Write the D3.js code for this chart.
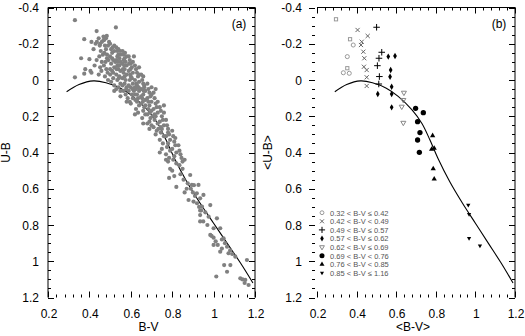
<!DOCTYPE html>
<html>
<head>
<meta charset="utf-8">
<script src="https://cdn.jsdelivr.net/npm/d3@7"></script>
<style>
  body { margin: 0; background: #fff; }
  svg { display: block; font-family: Arial, "Liberation Sans", sans-serif; }
</style>
</head>
<body>
<script>
// intrinsic main-sequence relation (U-B vs B-V)
var curveBV = [0.29, 0.35, 0.42, 0.48, 0.55, 0.61, 0.68, 0.73, 0.77, 0.81, 0.87, 0.935, 1.0, 1.065, 1.13, 1.19];
var curveUB = [0.065, 0.025, 0.005, 0.015, 0.045, 0.09, 0.165, 0.24, 0.33, 0.43, 0.56, 0.68, 0.79, 0.90, 1.01, 1.12];

// panel (a): individual stars [B-V, U-B]
var starsA = [
  [0.33,-0.33],[0.33,-0.015],[0.36,-0.12],[0.375,-0.225],[0.38,-0.06],[0.375,-0.035],[0.405,-0.05],
  [0.41,-0.21],[0.43,-0.20],[0.435,-0.27],[0.40,-0.115],[0.435,-0.11],[0.41,-0.04],[0.42,-0.17],[0.425,-0.08],
  [0.528,-0.29],[0.484,-0.243],[0.468,-0.22],[0.468,-0.24],[0.452,-0.20],[0.436,-0.21],
  [0.445,-0.23],[0.45,-0.19],[0.455,-0.16],[0.448,-0.13],[0.46,-0.10],[0.452,-0.07],[0.445,-0.03],[0.458,-0.05],[0.46,-0.21],[0.465,-0.14],
  [0.47,-0.22],[0.475,-0.19],[0.48,-0.17],[0.472,-0.15],[0.485,-0.12],[0.478,-0.10],[0.47,-0.08],[0.482,-0.06],[0.488,-0.04],
  [0.475,-0.02],[0.49,0.0],[0.485,-0.14],[0.49,-0.19],[0.48,-0.23],[0.495,-0.21],[0.492,-0.11],
  [0.50,-0.20],[0.505,-0.17],[0.51,-0.15],[0.50,-0.13],[0.515,-0.11],[0.505,-0.09],[0.52,-0.07],[0.51,-0.05],[0.50,-0.03],
  [0.515,-0.01],[0.505,0.01],[0.52,0.03],[0.51,-0.12],[0.52,-0.16],[0.50,-0.06],[0.515,-0.04],[0.52,-0.19],[0.512,-0.18],[0.525,-0.10],
  [0.53,-0.18],[0.535,-0.16],[0.54,-0.14],[0.545,-0.12],[0.53,-0.11],[0.55,-0.10],[0.535,-0.08],[0.54,-0.06],[0.55,-0.05],[0.53,-0.03],
  [0.545,-0.02],[0.535,0.0],[0.55,0.02],[0.54,0.04],[0.53,0.05],[0.55,-0.14],[0.545,-0.08],[0.54,-0.17],[0.55,0.06],[0.535,-0.13],
  [0.532,-0.06],[0.548,-0.16],[0.542,-0.01],[0.538,-0.10],
  [0.56,-0.16],[0.565,-0.14],[0.57,-0.12],[0.575,-0.10],[0.56,-0.09],[0.58,-0.08],[0.57,-0.06],[0.565,-0.04],[0.58,-0.03],[0.56,-0.01],
  [0.575,0.0],[0.57,0.02],[0.58,0.04],[0.565,0.06],[0.575,0.08],[0.56,0.03],[0.58,-0.13],[0.57,-0.02],[0.585,0.10],[0.565,-0.11],
  [0.572,-0.15],[0.562,-0.06],[0.578,0.05],[0.568,-0.08],
  [0.59,-0.13],[0.595,-0.11],[0.60,-0.09],[0.605,-0.07],[0.59,-0.05],[0.61,-0.04],[0.60,-0.02],[0.595,0.0],[0.61,0.02],[0.60,0.04],
  [0.59,0.06],[0.605,0.08],[0.61,0.10],[0.595,0.12],[0.60,0.13],[0.61,-0.10],[0.59,0.03],[0.605,-0.01],[0.615,0.06],[0.598,-0.06],
  [0.608,0.05],[0.592,-0.09],
  [0.62,-0.08],[0.625,-0.06],[0.63,-0.04],[0.635,-0.02],[0.62,0.0],[0.64,0.01],[0.63,0.03],[0.625,0.05],[0.64,0.06],[0.62,0.08],
  [0.635,0.10],[0.63,0.12],[0.64,0.14],[0.625,0.16],[0.635,0.18],[0.62,0.04],[0.64,-0.03],[0.63,0.08],[0.622,0.11],[0.638,0.04],
  [0.65,-0.03],[0.655,0.0],[0.66,0.02],[0.665,0.04],[0.65,0.05],[0.67,0.06],[0.66,0.08],[0.655,0.10],[0.67,0.11],[0.65,0.13],
  [0.665,0.15],[0.66,0.17],[0.67,0.19],[0.655,0.21],[0.665,0.03],[0.67,0.14],[0.65,0.09],[0.658,0.12],
  [0.68,0.02],[0.685,0.05],[0.69,0.07],[0.695,0.09],[0.68,0.10],[0.70,0.12],[0.69,0.14],[0.685,0.16],[0.70,0.17],[0.68,0.19],
  [0.695,0.21],[0.69,0.23],[0.70,0.25],[0.685,0.12],[0.70,0.08],[0.68,0.24],[0.692,0.18],
  [0.71,0.07],[0.715,0.10],[0.72,0.13],[0.725,0.15],[0.71,0.16],[0.73,0.18],[0.72,0.20],[0.715,0.22],[0.73,0.24],[0.71,0.26],
  [0.725,0.28],[0.72,0.30],[0.73,0.12],[0.715,0.19],
  [0.74,0.15],[0.745,0.17],[0.75,0.20],[0.755,0.22],[0.74,0.23],[0.76,0.25],[0.75,0.27],[0.745,0.29],[0.76,0.31],[0.74,0.33],
  [0.755,0.35],[0.75,0.38],[0.76,0.18],[0.745,0.26],
  [0.77,0.22],[0.775,0.25],[0.78,0.27],[0.785,0.30],[0.77,0.31],[0.79,0.33],[0.78,0.35],[0.775,0.37],[0.79,0.39],[0.77,0.41],
  [0.785,0.43],[0.78,0.45],[0.79,0.49],[0.785,0.54],[0.78,0.29],
  [0.80,0.28],[0.805,0.31],[0.81,0.34],[0.815,0.36],[0.80,0.38],[0.82,0.40],[0.81,0.42],[0.805,0.44],[0.82,0.46],[0.80,0.50],
  [0.81,0.53],[0.82,0.59],[0.815,0.32],
  [0.83,0.36],[0.835,0.39],[0.84,0.41],[0.845,0.43],[0.85,0.45],[0.86,0.44],[0.84,0.52],[0.855,0.55],[0.86,0.62],[0.835,0.47],[0.85,0.49],
  [0.879,0.662],[0.887,0.524],[0.895,0.579],[0.903,0.671],[0.919,0.625],[0.927,0.579],[0.935,0.653],[0.944,0.699],[0.935,0.745],
  [0.951,0.634],[0.976,0.754],[0.984,0.69],[0.984,0.855],[1.0,0.818],[1.0,0.91],[1.016,0.763],[1.032,0.818],[1.032,0.947],
  [1.048,0.873],[1.065,0.92],[1.072,0.956],[1.081,1.021],[1.105,0.975],[1.129,1.094],[1.153,1.103],[1.161,0.993],[1.169,1.131],
  [1.013,1.084],[1.051,1.021],[1.065,1.058],
  [0.87,0.60],[0.875,0.57],[0.89,0.60],[0.90,0.62],[0.91,0.64],[0.905,0.58],[0.92,0.68],[0.93,0.70],[0.94,0.72],[0.95,0.78],
  [0.96,0.73],[0.97,0.80],[0.99,0.86],[1.0,0.87],[1.01,0.89],[1.02,0.91],[1.04,0.88],[1.04,0.93],[1.055,0.90],[1.08,0.94],
  [1.09,0.96],[1.14,1.10],[1.15,1.12],[0.935,0.78],[0.935,0.72],
  [0.615,-0.13],[0.64,-0.07],[0.66,-0.02],[0.70,0.04],[0.72,0.05],[0.76,0.14],[0.74,0.40],[0.77,0.44],[0.69,0.27],
  [0.66,0.24],[0.62,0.19],[0.58,0.12],[0.55,0.09],[0.52,0.06],[0.597,-0.03],[0.627,0.02],[0.663,0.06],[0.705,0.20],[0.733,0.27]
];

// panel (b): group means [<B-V>, <U-B>]
var g1Circles = [[0.383,-0.193],[0.353,-0.129],[0.333,-0.04],[0.363,-0.037]];
var g1Squares = [[0.296,-0.335],[0.367,-0.225],[0.353,-0.065]];
var g2 = [[0.405,-0.276],[0.456,-0.243],[0.426,-0.211],[0.422,-0.193],[0.434,-0.156],[0.439,-0.12],[0.437,-0.073],[0.451,-0.055],[0.451,-0.015],[0.451,0.033]];
var g3 = [[0.501,-0.291],[0.527,-0.153],[0.513,-0.12],[0.505,-0.079],[0.515,-0.019],[0.512,0.022]];
var g4 = [[0.56,-0.129],[0.594,-0.132],[0.572,-0.055],[0.569,-0.018],[0.577,0.037],[0.577,0.077],[0.507,0.077],[0.577,0.151]];
var g5 = [[0.639,0.07],[0.636,0.11],[0.628,0.147],[0.636,0.236]];
var g6 = [[0.698,0.156],[0.737,0.18],[0.708,0.23],[0.72,0.29],[0.708,0.331],[0.717,0.399]];
var g7 = [[0.784,0.307],[0.779,0.382],[0.792,0.377],[0.787,0.49],[0.792,0.546]];
var g8 = [[0.964,0.69],[0.968,0.741],[0.968,0.873],[1.023,0.914]];

var legendLabels = [
  "0.32 < B-V \u2264 0.42", "0.42 < B-V < 0.49", "0.49 < B-V \u2264 0.57", "0.57 < B-V \u2264 0.62",
  "0.62 < B-V \u2264 0.69", "0.69 < B-V < 0.76", "0.76 < B-V < 0.85", "0.85 < B-V \u2264 1.16"
];

var xTickLabels = [0.2, 0.4, 0.6, 0.8, 1, 1.2];
var yTickLabels = [-0.4, -0.2, 0, 0.2, 0.4, 0.6, 0.8, 1, 1.2];

var W = 525, H = 336;
var svg = d3.select("body").append("svg").attr("width", W).attr("height", H);

var yTop = 7.5, yBot = 297.5;

// symbol styles for panel b groups
var groups = [
  { data: g1Circles, type: d3.symbolCircle, size: 13, fill: "none", stroke: "#999" },
  { data: g2, type: d3.symbolTimes, size: 13, fill: "none", stroke: "#666" },
  { data: g3, type: d3.symbolPlus, size: 16, fill: "none", stroke: "#000" },
  { data: g4, type: d3.symbolDiamond, size: 12, fill: "#000", stroke: "none" },
  { data: g5, type: d3.symbolTriangle, size: 11, fill: "none", stroke: "#888", rot: 180 },
  { data: g6, type: d3.symbolCircle, size: 22, fill: "#000", stroke: "none" },
  { data: g7, type: d3.symbolTriangle, size: 12, fill: "#000", stroke: "none" },
  { data: g8, type: d3.symbolTriangle, size: 8, fill: "#000", stroke: "none", rot: 180 }
];

function drawPanel(x0, x1, yTitle, tag, leftLine, leftTickOut, labelGap, titleX) {
  var xs = d3.scaleLinear().domain([0.2, 1.2]).range([x0, x1]);
  var ys = d3.scaleLinear().domain([-0.4, 1.2]).range([yTop, yBot]);
  var g = svg.append("g");

  // frame (no bottom line in the original)
  var frame = "M" + x0 + "," + yTop + "H" + x1 + "V" + yBot;
  if (leftLine) frame = "M" + x0 + "," + yBot + "V" + yTop + "H" + x1 + "V" + yBot;
  g.append("path").attr("d", frame).attr("fill", "none").attr("stroke", "#000").attr("stroke-width", 1);

  // x ticks: bottom (up) and top (down)
  var xMinor = d3.range(0.2, 1.2001, 0.04);
  xMinor.forEach(function (v) {
    var major = Math.abs(Math.round(v / 0.2) * 0.2 - v) < 1e-6;
    var len = major ? 6 : 3;
    var px = Math.round(xs(v)) + 0.5;
    g.append("line").attr("x1", px).attr("x2", px).attr("y1", yBot).attr("y2", yBot - len).attr("stroke", "#000");
    g.append("line").attr("x1", px).attr("x2", px).attr("y1", yTop).attr("y2", yTop + len).attr("stroke", "#000");
  });
  // y ticks: left and right
  var yMinor = d3.range(-0.4, 1.2001, 0.05);
  yMinor.forEach(function (v) {
    var major = Math.abs(Math.round(v / 0.2) * 0.2 - v) < 1e-6;
    var len = major ? 6 : 3;
    var py = Math.round(ys(v)) + 0.5;
    if (leftTickOut) {
      g.append("line").attr("x1", x0 - 2).attr("x2", x0 - 2 - len).attr("y1", py).attr("y2", py).attr("stroke", "#000");
    } else {
      g.append("line").attr("x1", x0).attr("x2", x0 + len).attr("y1", py).attr("y2", py).attr("stroke", "#000");
    }
    g.append("line").attr("x1", x1).attr("x2", x1 - len).attr("y1", py).attr("y2", py).attr("stroke", "#000");
  });

  g.selectAll(".xl").data(xTickLabels).enter().append("text")
    .attr("x", function (d) { return xs(d) + 1; })
    .attr("y", 318)
    .attr("text-anchor", "middle")
    .attr("font-size", "12px")
    .text(function (d) { return d; });

  g.selectAll(".yl").data(yTickLabels).enter().append("text")
    .attr("x", x0 - labelGap)
    .attr("y", function (d) { return ys(d) + 4.5; })
    .attr("text-anchor", "end")
    .attr("font-size", "12px")
    .text(function (d) { return d; });

  g.append("text").attr("x", (x0 + x1) / 2 - 3).attr("y", 331)
    .attr("text-anchor", "middle").attr("font-size", "12px")
    .text(yTitle[0]);
  g.append("text")
    .attr("transform", "translate(" + titleX + "," + ((yTop + yBot) / 2) + ") rotate(-90)")
    .attr("text-anchor", "middle").attr("font-size", "12px")
    .text(yTitle[1]);

  g.append("text").attr("x", x1 - 16).attr("y", 28).attr("text-anchor", "middle")
    .attr("font-size", "12px").text(tag);

  var line = d3.line()
    .x(function (d, i) { return xs(curveBV[i]); })
    .y(function (d, i) { return ys(curveUB[i]); })
    .curve(d3.curveCatmullRom);
  g.append("path").datum(curveBV).attr("d", line)
    .attr("fill", "none").attr("stroke", "#000").attr("stroke-width", 1.1);

  return { g: g, xs: xs, ys: ys };
}

// panel (a)
var pa = drawPanel(48, 255, ["B-V", "U-B"], "(a)", true, false, 9, 10);
pa.g.selectAll("circle.star").data(starsA).enter().append("circle")
  .attr("cx", function (d) { return pa.xs(d[0]); })
  .attr("cy", function (d) { return pa.ys(d[1]); })
  .attr("r", 2.1)
  .attr("fill", "#808080");

// panel (b)
var pb = drawPanel(317, 515, ["<B-V>", "<U-B>"], "(b)", false, true, 15, 272);

pb.g.selectAll("rect.sq").data(g1Squares).enter().append("rect")
  .attr("x", function (d) { return pb.xs(d[0]) - 1.6; })
  .attr("y", function (d) { return pb.ys(d[1]) - 1.6; })
  .attr("width", 3.2).attr("height", 3.2)
  .attr("fill", "none").attr("stroke", "#999");

groups.forEach(function (gr) {
  var sym = d3.symbol().type(gr.type).size(gr.size);
  pb.g.selectAll(null).data(gr.data).enter().append("path")
    .attr("d", sym)
    .attr("transform", function (d) {
      return "translate(" + pb.xs(d[0]) + "," + pb.ys(d[1]) + ")" + (gr.rot ? " rotate(" + gr.rot + ")" : "");
    })
    .attr("fill", gr.fill)
    .attr("stroke", gr.stroke)
    .attr("stroke-width", 1);
});

// legend
var lg = pb.g.append("g");
legendLabels.forEach(function (t, i) {
  var gr = groups[i];
  var y = 212.7 + i * 8.6;
  lg.append("path")
    .attr("d", d3.symbol().type(gr.type).size(gr.size * 0.9))
    .attr("transform", "translate(322," + y + ")" + (gr.rot ? " rotate(" + gr.rot + ")" : ""))
    .attr("fill", gr.fill).attr("stroke", gr.stroke);
  lg.append("text").attr("x", 330).attr("y", y + 2.8)
    .attr("font-size", "7.5px").attr("fill", "#555").text(t);
});
</script>
</body>
</html>
